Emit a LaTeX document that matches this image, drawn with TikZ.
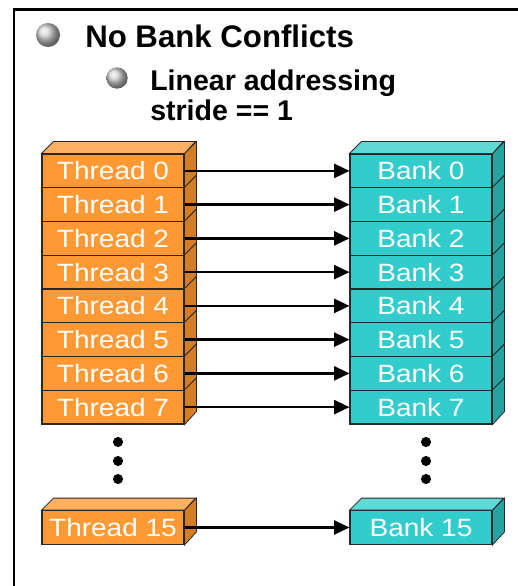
\documentclass[tikz,border=0pt]{standalone}
\usepackage{fontspec}
\setmainfont{Liberation Sans}
\newfontfamily\cellfont[FakeStretch=1.12]{Liberation Sans}
\usetikzlibrary{arrows.meta}

\definecolor{thrfront}{RGB}{255,153,51}
\definecolor{thrside}{RGB}{212,125,40}
\definecolor{thrtop}{RGB}{255,176,96}
\definecolor{bnkfront}{RGB}{51,204,204}
\definecolor{bnkside}{RGB}{38,163,160}
\definecolor{bnktop}{RGB}{96,216,214}
\definecolor{edge}{RGB}{40,40,40}

\tikzset{
  cell/.style={rectangle, draw=edge, line width=0.8pt, inner sep=0pt,
    minimum width=106.5pt, minimum height=25.31pt, text=white,
    font=\cellfont\fontsize{18.75pt}{20pt}\selectfont},
  threadcell/.style={cell, fill=thrfront},
  bankcell/.style={cell, fill=bnkfront},
  threadside/.style={draw=edge, line width=0.6pt, fill=thrside},
  threadtop/.style={draw=edge, line width=0.6pt, fill=thrtop},
  bankside/.style={draw=edge, line width=0.6pt, fill=bnkside},
  banktop/.style={draw=edge, line width=0.6pt, fill=bnktop},
  link/.style={line width=1.8pt, -{Triangle[length=11.5pt,width=10.5pt]}},
  bullet/.style={ball color=black!18},
  dotmark/.style={fill=black},
  heading/.style={anchor=base west, inner sep=0pt,
    font=\bfseries\fontsize{23.4pt}{26pt}\selectfont},
  subheading/.style={anchor=base west, inner sep=0pt,
    font=\bfseries\fontsize{21.4pt}{24pt}\selectfont}
}

\begin{document}
\begin{tikzpicture}[x=0.75pt,y=-0.75pt]
\useasboundingbox (0,0) rectangle (518,586);

% frame (only the top and left edges fall inside the page)
\draw[line width=2.2pt] (14,620) -- (14,9.5) -- (560,9.5);

% headings with bullet spheres
\shade[bullet] (48,35) circle[radius=9pt];
\node[heading] (title) at (85,47) {No Bank Conflicts};
\shade[bullet] (117,78) circle[radius=8pt];
\node[subheading] (sub1) at (150,90) {Linear addressing};
\node[subheading] (sub2) at (150,120) {stride == 1};

% thread stack (0..7)
\foreach \i in {0,...,7} {
  \node[threadcell] (t\i) at (113,{170.875+33.75*\i}) {Thread \i};
  \draw[threadside] (t\i.north east) -- ++(12,-12) -- ++(0,33.75) -- (t\i.south east) -- cycle;
}
\draw[threadtop] (t0.north west) -- ++(12,-12) -- ++(142,0) -- (t0.north east) -- cycle;

% bank stack (0..7)
\foreach \i in {0,...,7} {
  \node[bankcell] (b\i) at (421,{170.875+33.75*\i}) {Bank \i};
  \draw[bankside] (b\i.north east) -- ++(12,-12) -- ++(0,33.75) -- (b\i.south east) -- cycle;
}
\draw[banktop] (b0.north west) -- ++(12,-12) -- ++(142,0) -- (b0.north east) -- cycle;

% last thread and last bank
\node[threadcell] (t15) at (113,527.5) {Thread 15};
\draw[threadside] (t15.north east) -- ++(12,-12) -- ++(0,33.75) -- (t15.south east) -- cycle;
\draw[threadtop] (t15.north west) -- ++(12,-12) -- ++(142,0) -- (t15.north east) -- cycle;

\node[bankcell] (b15) at (421,527.5) {Bank 15};
\draw[bankside] (b15.north east) -- ++(12,-12) -- ++(0,33.75) -- (b15.south east) -- cycle;
\draw[banktop] (b15.north west) -- ++(12,-12) -- ++(142,0) -- (b15.north east) -- cycle;

% ellipsis dots
\foreach \y in {442,461,479} {
  \fill[dotmark] (118,\y) circle[radius=3.8pt];
  \fill[dotmark] (426,\y) circle[radius=3.8pt];
}

% one-to-one mapping
\foreach \i in {0,...,7} {
  \draw[link] (t\i.east) -- (b\i.west);
}
\draw[link] (t15.east) -- (b15.west);
\end{tikzpicture}
\end{document}
